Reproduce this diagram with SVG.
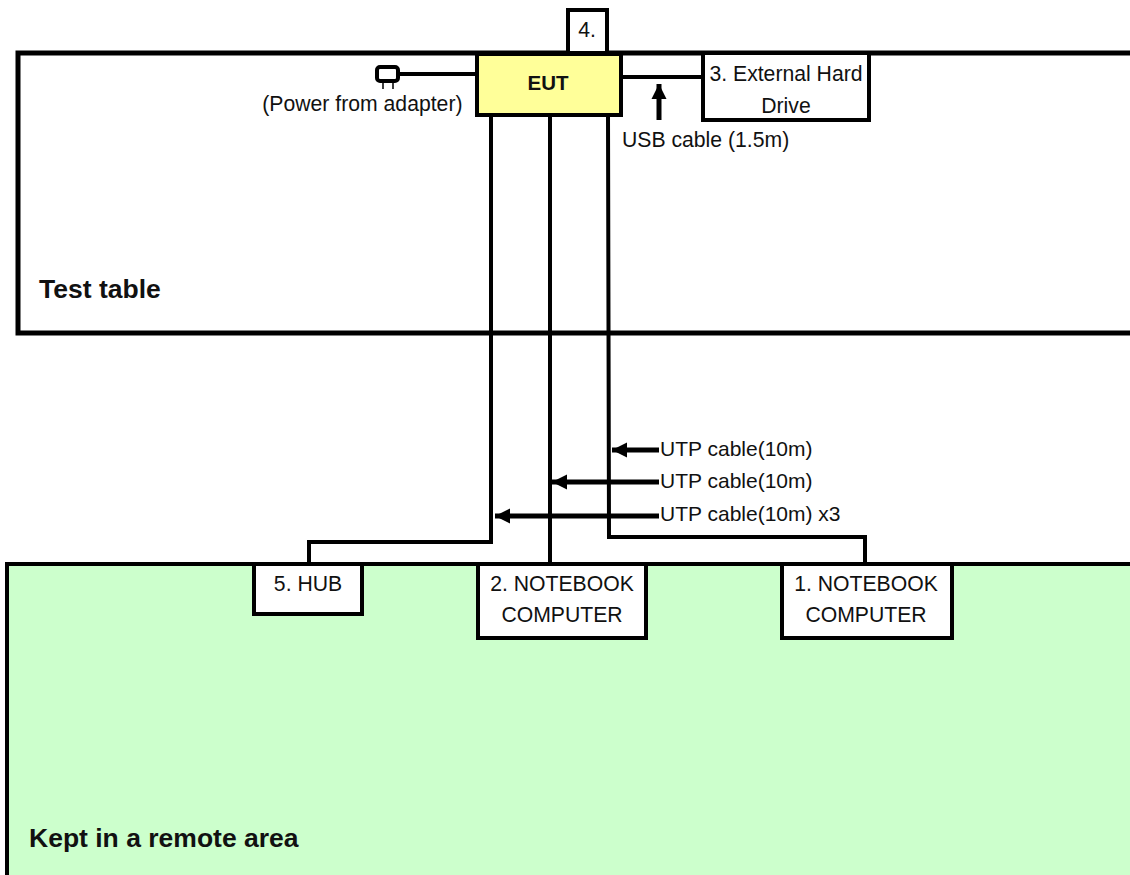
<svg xmlns="http://www.w3.org/2000/svg" width="1130" height="875" viewBox="0 0 1130 875">
<style>
text{font-family:"Liberation Sans",Arial,sans-serif;font-size:21.2px;fill:#111}
.m{text-anchor:middle}
.b{font-weight:bold;font-size:20.5px}
.u{font-size:21px}
.big{font-size:26.5px;font-weight:bold}
.box{fill:#fff;stroke:#000;stroke-width:4}
.w{fill:none;stroke:#000;stroke-width:4}
.a{fill:none;stroke:#000;stroke-width:5}
</style>
<defs><marker id="ah" markerUnits="userSpaceOnUse" markerWidth="16" markerHeight="16" refX="15" refY="8" orient="auto"><path d="M0 0.5L15 8L0 15.5Z" fill="#000"/></marker></defs>
<g id="test-table"><path d="M1130 53H18V333H1130" fill="#fff" stroke="#000" stroke-width="5"/><text x="39" y="297.500" class="big">Test table</text></g>
<g id="remote-area"><path d="M1130 564H7V875H1130Z" fill="#ccffcc"/><path d="M1130 564H7V875" fill="none" stroke="#000" stroke-width="4"/><text x="29" y="847" class="big">Kept in a remote area</text></g>
<g id="connectors">
<path class="w" d="M491 116V542H309V564"/>
<path class="w" d="M550 116V564"/>
<path class="w" d="M608 116L609 537H865V564"/>
<path class="w" d="M400 74H476"/>
<path class="w" d="M622 77H703"/>
<path d="M659 120V84" class="a" marker-end="url(#ah)"/>
<path d="M659 450H612" class="a" marker-end="url(#ah)"/>
<path d="M659 482H552" class="a" marker-end="url(#ah)"/>
<path d="M659 516H495" class="a" marker-end="url(#ah)"/>
</g>
<g id="node-4"><rect class="box" x="568" y="10" width="39" height="43"/><text x="587" y="37" class="m">4.</text></g>
<g id="eut"><rect x="477" y="54" width="144" height="61" fill="#ffff99" stroke="#000" stroke-width="4"/><text x="548" y="90" class="m b">EUT</text></g>
<g id="node-3"><rect class="box" x="703" y="53" width="166" height="67"/><text x="786" y="81" class="m">3. External Hard</text><text x="786" y="113" class="m">Drive</text></g>
<g id="adapter"><rect x="377" y="67" width="21" height="14" rx="3" fill="#fff" stroke="#000" stroke-width="4"/><path d="M383 83V89M393 83V89" stroke="#000" stroke-width="1.5"/><text x="462.500" y="111" text-anchor="end">(Power from adapter)</text></g>
<g id="node-5"><rect class="box" x="254" y="564" width="108" height="50"/><text x="308" y="591" class="m">5. HUB</text></g>
<g id="node-2"><rect class="box" x="478" y="564" width="168" height="74"/><text x="562" y="591" class="m">2. NOTEBOOK</text><text x="562" y="622" class="m">COMPUTER</text></g>
<g id="node-1"><rect class="box" x="782" y="564" width="170" height="74"/><text x="866" y="591" class="m">1. NOTEBOOK</text><text x="866" y="622" class="m">COMPUTER</text></g>
<g id="labels">
<text x="622" y="147">USB cable (1.5m)</text>
<text x="660" y="456" class="u">UTP cable(10m)</text>
<text x="660" y="488" class="u">UTP cable(10m)</text>
<text x="660" y="521" class="u">UTP cable(10m) x3</text>
</g>
</svg>
